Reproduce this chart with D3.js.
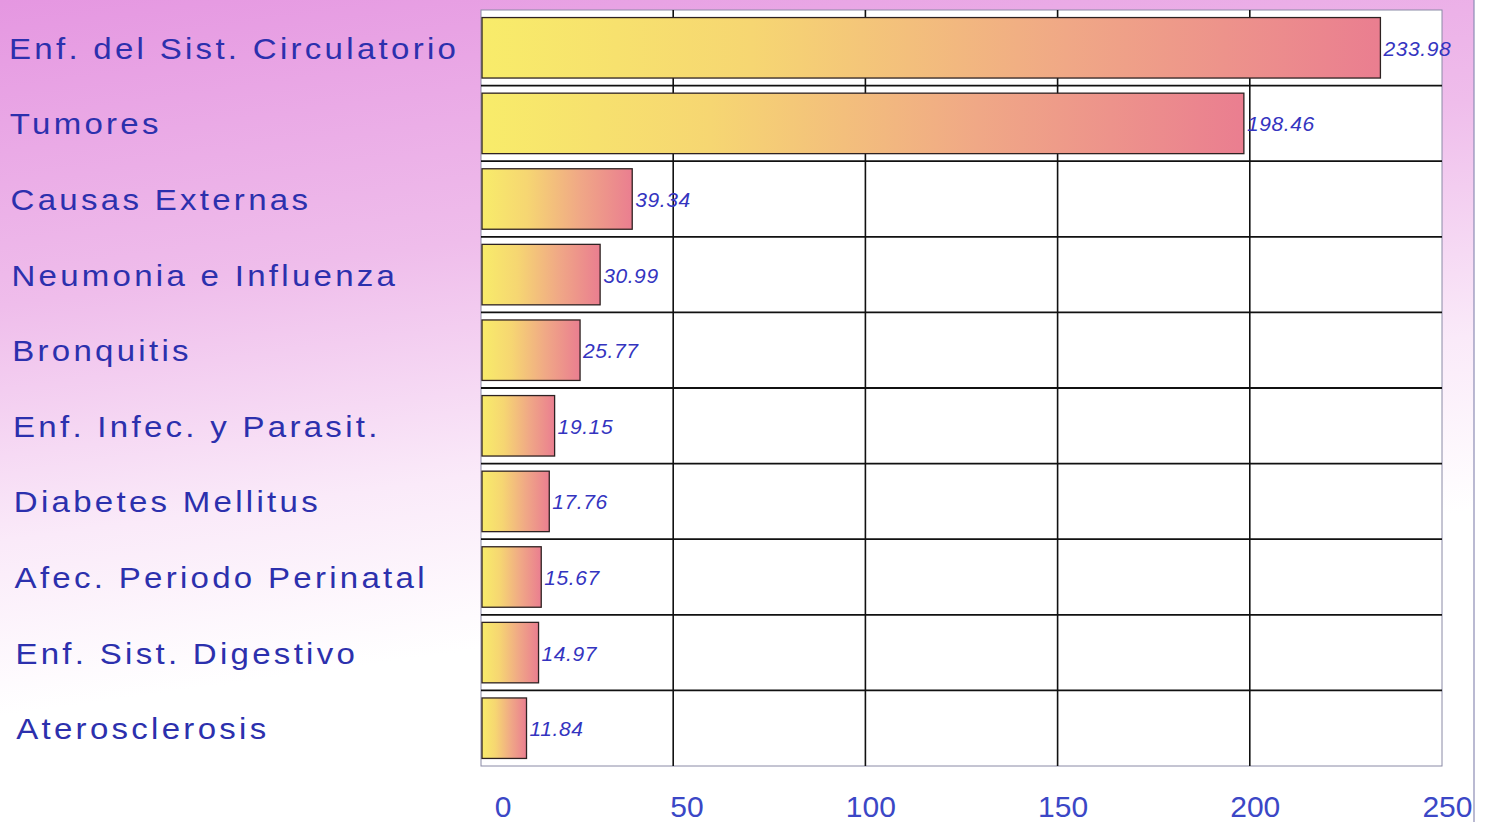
<!DOCTYPE html>
<meta charset="utf-8">
<script src="https://cdn.jsdelivr.net/npm/d3@7"></script>
<style>
  body { margin: 0; background: #fff; }
  .cat { font-family: "Liberation Sans", Arial, sans-serif; font-size: 30px; fill: #2c30ad; letter-spacing: 3px; }
  .val { font-family: "Liberation Sans", Arial, sans-serif; font-size: 21px; font-style: italic; fill: #3434bf; letter-spacing: 0.6px; }
  .axis text { font-family: "Liberation Sans", Arial, sans-serif; font-size: 30px; fill: #3b47c6; }
</style>

<body>
  <script>
    // chart data
    var categories = ["Enf. del Sist. Circulatorio", "Tumores", "Causas Externas",
      "Neumonia e Influenza", "Bronquitis", "Enf. Infec. y Parasit.",
      "Diabetes Mellitus", "Afec. Periodo Perinatal", "Enf. Sist. Digestivo",
      "Aterosclerosis"];
    var values = [233.98, 198.46, 39.34, 30.99, 25.77, 19.15, 17.76, 15.67, 14.97, 11.84];
    var tickValues = [0, 50, 100, 150, 200, 250];

    var width = 1489,
      height = 822;

    var svg = d3.select("body").append("svg")
      .attr("width", width)
      .attr("height", height);

    var defs = svg.append("defs");

    // pink background fading down to white
    var bg = defs.append("linearGradient")
      .attr("id", "bg")
      .attr("x1", 0).attr("y1", 0).attr("x2", 0.25).attr("y2", 1);
    bg.append("stop").attr("offset", "0%").attr("stop-color", "#e597e1");
    bg.append("stop").attr("offset", "35%").attr("stop-color", "#efbdeb");
    bg.append("stop").attr("offset", "62%").attr("stop-color", "#faeaf9");
    bg.append("stop").attr("offset", "82%").attr("stop-color", "#ffffff");

    // bar gradient, yellow to pink
    var barGrad = defs.append("linearGradient")
      .attr("id", "bar")
      .attr("x1", 0).attr("y1", 0).attr("x2", 1).attr("y2", 0);
    barGrad.append("stop").attr("offset", "0%").attr("stop-color", "#f8ec6a");
    barGrad.append("stop").attr("offset", "30%").attr("stop-color", "#f6d672");
    barGrad.append("stop").attr("offset", "65%").attr("stop-color", "#f0a886");
    barGrad.append("stop").attr("offset", "100%").attr("stop-color", "#ea7e90");

    svg.append("rect")
      .attr("width", 1474)
      .attr("height", height)
      .attr("fill", "url(#bg)");

    // outer frame line on the right
    svg.append("line")
      .attr("x1", 1474).attr("x2", 1474)
      .attr("y1", 0).attr("y2", height)
      .attr("stroke", "#8c8cb4")
      .attr("stroke-width", 1.2);

    var margin = { top: 10, left: 481, right: 1442, bottom: 766 };

    var x = d3.scaleLinear()
      .domain([0, 250])
      .range([margin.left, margin.right]);

    var y = d3.scaleBand()
      .domain(categories)
      .range([margin.top, margin.bottom])
      .paddingInner(0.2)
      .paddingOuter(0.1);

    // plot area
    svg.append("rect")
      .attr("x", margin.left)
      .attr("y", margin.top)
      .attr("width", margin.right - margin.left)
      .attr("height", margin.bottom - margin.top)
      .attr("fill", "#fff")
      .attr("stroke", "#8a8aa6")
      .attr("stroke-width", 1);

    // vertical gridlines
    svg.append("g")
      .selectAll("line")
      .data(tickValues.filter(function (d) { return d > 0 && d < 250; }))
      .enter().append("line")
      .attr("x1", function (d) { return x(d); })
      .attr("x2", function (d) { return x(d); })
      .attr("y1", margin.top)
      .attr("y2", margin.bottom)
      .attr("stroke", "#111")
      .attr("stroke-width", 1.6);

    // horizontal row separators
    svg.append("g")
      .selectAll("line")
      .data(categories.slice(1))
      .enter().append("line")
      .attr("x1", margin.left)
      .attr("x2", margin.right)
      .attr("y1", function (d) { return y(d) - y.step() * y.paddingInner() / 2; })
      .attr("y2", function (d) { return y(d) - y.step() * y.paddingInner() / 2; })
      .attr("stroke", "#111")
      .attr("stroke-width", 1.8);

    // bars
    svg.append("g")
      .selectAll("rect")
      .data(values)
      .enter().append("rect")
      .attr("x", x(0) + 1)
      .attr("y", function (d, i) { return y(categories[i]); })
      .attr("width", function (d) { return x(d) - x(0) - 1; })
      .attr("height", y.bandwidth())
      .attr("fill", "url(#bar)")
      .attr("stroke", "#2e2222")
      .attr("stroke-width", 1.3);

    // value labels
    svg.append("g")
      .selectAll("text")
      .data(values)
      .enter().append("text")
      .attr("class", "val")
      .attr("x", function (d) { return x(d) + 3; })
      .attr("y", function (d, i) { return y(categories[i]) + y.bandwidth() / 2 + 8; })
      .text(function (d) { return d.toFixed(2); });

    // category labels (stretched a bit, like the original typeface)
    svg.append("g")
      .selectAll("text")
      .data(categories)
      .enter().append("text")
      .attr("class", "cat")
      .attr("transform", function (d, i) {
        return "translate(" + (9 + i * 0.8) + "," + (y(d) + y.bandwidth() / 2 + 11) + ") scale(1.1,1)";
      })
      .text(function (d) { return d; });

    // x axis labels
    var axis = svg.append("g")
      .attr("class", "axis")
      .attr("transform", "translate(0," + margin.bottom + ")")
      .call(d3.axisBottom(x).tickValues(tickValues).tickSize(0).tickPadding(0));
    axis.select(".domain").remove();
    axis.selectAll("text")
      .attr("text-anchor", "end")
      .attr("dx", 30)
      .attr("dy", 0)
      .attr("y", 51);
  </script>
</body>

</html>
